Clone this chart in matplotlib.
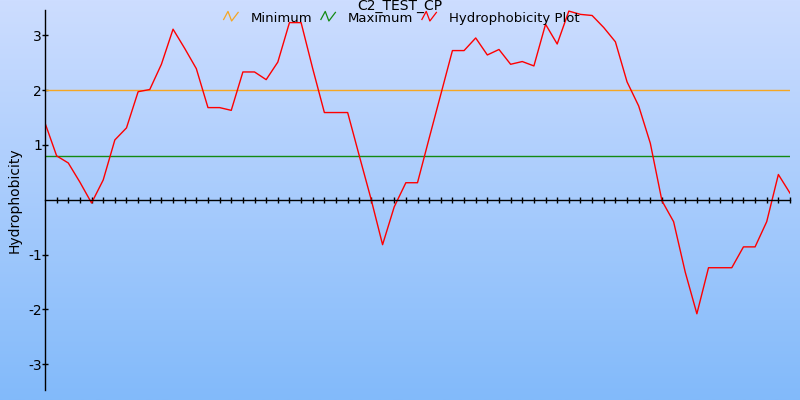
import numpy as np
import matplotlib
matplotlib.use("Agg")
import matplotlib.pyplot as plt
from matplotlib.lines import Line2D
from matplotlib.legend_handler import HandlerBase

title = "C2_TEST_CP"
ylabel = "Hydrophobicity"
series_names = ["Minimum", "Maximum", "Hydrophobicity Plot"]
series_colors = ["#f5a623", "#138a13", "#ff0000"]

# threshold levels
minimum_level = 2.0
maximum_level = 0.8

# hydrophobicity values, one per window position
hydro = [1.40, 0.80, 0.67, 0.32, -0.06, 0.36, 1.09, 1.31, 1.97, 2.01,
         2.47, 3.11, 2.76, 2.39, 1.68, 1.68, 1.63, 2.33, 2.33, 2.19,
         2.51, 3.23, 3.23, 2.39, 1.59, 1.59, 1.59, 0.80, 0.02, -0.82,
         -0.13, 0.31, 0.31, 1.12, 1.92, 2.72, 2.72, 2.95, 2.64, 2.74,
         2.47, 2.52, 2.44, 3.20, 2.84, 3.44, 3.38, 3.36, 3.14, 2.88,
         2.15, 1.71, 1.03, -0.02, -0.40, -1.32, -2.08, -1.24, -1.24, -1.24,
         -0.86, -0.86, -0.40, 0.46, 0.12]
yticks = [-3, -2, -1, 1, 2, 3]


class ZigZag(HandlerBase):
    # little zigzag icon like the original legend
    def create_artists(self, legend, orig_handle, xdescent, ydescent,
                       width, height, fontsize, trans):
        w = width
        xs = [0, w * 0.3, w * 0.55, w]
        ys = [height * 0.25, height * 1.05, height * 0.1, height * 0.95]
        ln = Line2D(xs, ys, color=orig_handle.get_color(), lw=0.9, transform=trans)
        return [ln]


fig = plt.figure(figsize=(8, 4), dpi=100)

# gradient background
bg = fig.add_axes([0, 0, 1, 1], zorder=-10)
grad = np.linspace(0, 1, 256).reshape(-1, 1)
top = np.array([205, 221, 255]) / 255.0
bot = np.array([130, 186, 250]) / 255.0
img = top[None, None, :] * (1 - grad[:, :, None]) + bot[None, None, :] * grad[:, :, None]
bg.imshow(img, aspect="auto", extent=[0, 1, 0, 1])
bg.axis("off")

ax = fig.add_axes([45 / 800, 10 / 400, 745 / 800, 380 / 400])
ax.patch.set_alpha(0)

x = np.arange(len(hydro))
h_min = ax.axhline(minimum_level, color=series_colors[0], lw=1)
h_max = ax.axhline(maximum_level, color=series_colors[1], lw=1)
h_plot, = ax.plot(x, hydro, color=series_colors[2], lw=1)

ax.set_xlim(0, len(hydro) - 1)
ax.set_ylim(-3.47, 3.46)

for s in ["top", "right"]:
    ax.spines[s].set_visible(False)
ax.spines["bottom"].set_position(("data", 0))
ax.spines["left"].set_linewidth(1)
ax.spines["bottom"].set_linewidth(1)

ax.set_xticks(x[1:])
ax.set_xticklabels([])
ax.tick_params(axis="x", direction="inout", length=4.5, width=1)
ax.set_yticks(yticks)
ax.set_yticklabels([str(t) for t in yticks], fontsize=10)
ax.tick_params(axis="y", direction="inout", length=4.5, width=1, pad=0)

ax.set_ylabel(ylabel, fontsize=10)
ax.yaxis.set_label_coords(-0.031, 0.5)

fig.text(0.5, 1 - 9.5 / 400, title, ha="center", va="baseline", fontsize=10)
fig.legend([h_min, h_max, h_plot], series_names, loc="center",
           bbox_to_anchor=(0.502, 1 - 18.5 / 400), ncol=3, frameon=False,
           fontsize=9.5, handler_map={Line2D: ZigZag()}, handlelength=1.1,
           handleheight=0.8, handletextpad=0.95, columnspacing=0.65, borderpad=0)

fig.savefig("out.png", dpi=100)
